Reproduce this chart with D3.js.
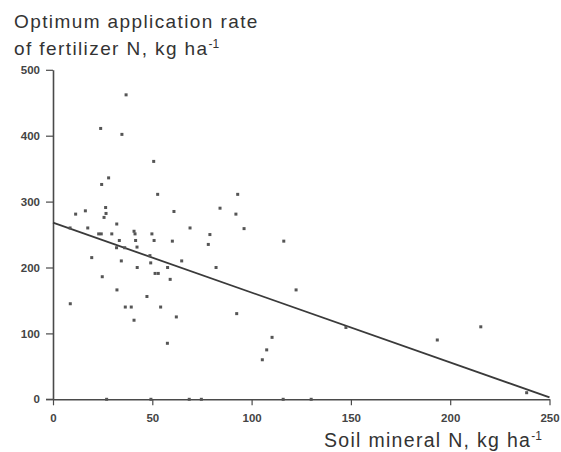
<!DOCTYPE html>
<html><head><meta charset="utf-8">
<script src="https://cdn.jsdelivr.net/npm/d3@7"></script>
<style>
html,body{margin:0;padding:0;background:#fff;}
svg{display:block;font-family:"Liberation Sans",Arial,Helvetica,sans-serif;}
</style></head>
<body>
<svg id="chart" width="561" height="452"></svg>
<script>
// Soil mineral N (kg/ha)
const soilN = [36.8,24.0,34.7,50.7,28.0,24.5,52.7,16.3,11.4,26.5,26.7,60.9,25.7,32.1,8.6,17.5,
  23.0,24.3,29.6,40.8,41.3,49.8,33.4,41.6,50.9,60.1,32.0,36.1,42.3,19.5,34.4,48.8,49.2,42.4,57.7,64.8,
  24.8,51.4,53.0,59.0,32.2,47.3,8.7,36.4,39.4,54.2,62.1,40.8,57.6,
  93.0,84.1,92.1,69.0,96.2,79.0,78.2,116.2,82.1,122.4,92.5,110.3,107.6,105.4,
  147.5,193.5,215.4,238.5,
  27.0,49.3,68.6,74.7,115.9,130.0];
// Optimum application rate of fertilizer N (kg/ha)
const optN = [462,411,402,361,336,326,311,286,281,291,282,285,276,266,260,260,
  251,251,251,255,251,251,241,241,241,240,230,230,231,215,210,218,207,200,200,210,
  186,191,191,182,166,156,145,140,140,140,125,120,85,
  311,290,281,260,259,250,235,240,200,166,130,94,75,60,
  109,90,110,10,
  0,0,0,0,0,0];
// Fitted regression line end points
const lineX = [0,250];
const lineY = [268,3];
const xTicks = [0,50,100,150,200,250];
const yTicks = [0,100,200,300,400,500];

const svg = d3.select("#chart");
const x = d3.scaleLinear().domain([0,250]).range([53,549.5]);
const y = d3.scaleLinear().domain([0,500]).range([399.3,69.8]);
const ink = "#4a4a4a";

// axes
const xAxis = svg.append("g").attr("transform",`translate(0,${y(0)})`)
  .call(d3.axisBottom(x).tickValues(xTicks).tickSize(6).tickPadding(9).tickSizeOuter(0));
const yAxis = svg.append("g").attr("transform",`translate(${x(0)},0)`)
  .call(d3.axisLeft(y).tickValues(yTicks).tickSize(7).tickPadding(6).tickSizeOuter(0));
[xAxis,yAxis].forEach(g=>{
  g.select(".domain").attr("stroke",ink).attr("stroke-width",1.6);
  g.selectAll(".tick line").attr("stroke",ink).attr("stroke-width",1.2);
  g.selectAll(".tick text").attr("fill","#444").attr("font-size",11.5).attr("font-weight","bold")
    .attr("font-family","'Liberation Sans',Arial,sans-serif");
});
svg.append("line").attr("x1",x(0)-7).attr("x2",x(0)).attr("y1",y(0)).attr("y2",y(0))
  .attr("stroke",ink).attr("stroke-width",1.2);

// regression line
svg.append("line")
  .attr("x1",x(lineX[0])).attr("y1",y(lineY[0]))
  .attr("x2",x(lineX[1])).attr("y2",y(lineY[1]))
  .attr("stroke","#3a3a3a").attr("stroke-width",1.8);

// points
svg.append("g").selectAll("rect").data(soilN.map((d,i)=>[d,optN[i]])).join("rect")
  .attr("x",d=>x(d[0])-1.5).attr("y",d=>y(d[1])-1.5)
  .attr("width",3).attr("height",3).attr("fill","#555");

// titles
const t = svg.append("text").attr("x",14).attr("y",28).attr("fill","#333")
  .attr("font-size",19).attr("letter-spacing",1.4);
t.append("tspan").text("Optimum application rate");
const t2 = svg.append("text").attr("x",14).attr("y",55).attr("fill","#333")
  .attr("font-size",19).attr("letter-spacing",1.4);
t2.append("tspan").text("of fertilizer N, kg ha");
t2.append("tspan").attr("dy",-7).attr("font-size",12).attr("letter-spacing",0).text("-1");

const xl = svg.append("text").attr("x",324).attr("y",447).attr("fill","#333")
  .attr("font-size",19.5).attr("letter-spacing",1.3);
xl.append("tspan").text("Soil mineral N, kg ha");
xl.append("tspan").attr("dy",-7).attr("font-size",12).attr("letter-spacing",0).text("-1");
</script>
</body></html>
